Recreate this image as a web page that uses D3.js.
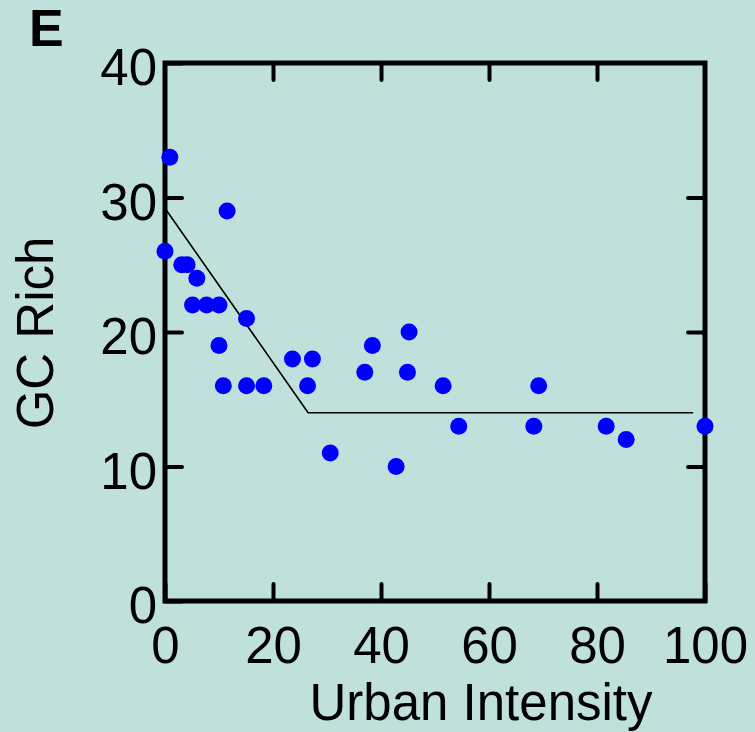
<!DOCTYPE html>
<html>
<head>
<meta charset="utf-8">
<script src="https://cdn.jsdelivr.net/npm/d3@7"></script>
<style>
  body { margin: 0; background: #bfe0db; }
  svg { display: block; font-family: "Liberation Sans", Arial, sans-serif; }
</style>
</head>
<body>
<svg id="chart" width="755" height="732"></svg>
<script>
// points
var urbanIntensity = [0, 0.9, 3.1, 4.1, 5.9, 5.1, 7.7, 10.0, 10.0, 11.5, 15.1, 10.8, 15.1, 18.3,
                      23.6, 27.3, 26.4, 30.6, 37.0, 38.4, 42.8, 45.2, 44.9, 51.5, 54.4, 68.3, 69.2, 81.7, 85.4, 100];
var gcRich = [26, 33, 25, 25, 24, 22, 22, 22, 19, 29, 21, 16, 16, 16,
              18, 18, 16, 11, 17, 19, 10, 20, 17, 16, 13, 13, 16, 13, 12, 13];

// broken-stick fit
var fitX = [0, 26.5, 97.8];
var fitY = [29.2, 14, 14];

var xTicks = [0, 20, 40, 60, 80, 100];
var yTicks = [0, 10, 20, 30, 40];

var margin = {left: 165, top: 63, right: 50, bottom: 131};
var w = 755 - margin.left - margin.right,
    h = 732 - margin.top - margin.bottom;

var svg = d3.select("#chart");
var g = svg.append("g").attr("transform", "translate(" + margin.left + "," + margin.top + ")");

var x = d3.scaleLinear().domain([0, 100]).range([0, w]);
var y = d3.scaleLinear().domain([0, 40]).range([h, 0]);

var tickLen = 17;
var fontSize = "51px";

function styleAxis(sel, showText) {
    sel.select(".domain").remove();
    sel.selectAll(".tick line").attr("stroke", "#000").attr("stroke-width", 4).attr("stroke-linecap", "round");
    sel.selectAll(".tick text").attr("fill", "#000").style("font-size", fontSize);
    if (!showText) sel.selectAll(".tick text").remove();
}

// bottom
g.append("g").attr("transform", "translate(0," + h + ")")
    .call(d3.axisBottom(x).tickValues(xTicks).tickSizeInner(-tickLen).tickSizeOuter(0).tickPadding(26))
    .call(styleAxis, true);
// top
g.append("g")
    .call(d3.axisTop(x).tickValues(xTicks.slice(1, -1)).tickSizeInner(-tickLen).tickSizeOuter(0))
    .call(styleAxis, false);
// left
var yAx = g.append("g")
    .call(d3.axisLeft(y).tickValues(yTicks).tickSizeInner(-tickLen).tickSizeOuter(0).tickPadding(8))
    .call(styleAxis, true);
yAx.selectAll(".tick text").attr("dy", "0.43em");
// right
g.append("g").attr("transform", "translate(" + w + ",0)")
    .call(d3.axisRight(y).tickValues(yTicks.slice(1, -1)).tickSizeInner(-tickLen).tickSizeOuter(0))
    .call(styleAxis, false);

// frame
g.append("rect")
    .attr("x", 0).attr("y", 0).attr("width", w).attr("height", h)
    .attr("fill", "none").attr("stroke", "#000").attr("stroke-width", 5);

// fit line
var line = d3.line().x(function(d){ return x(d[0]); }).y(function(d){ return y(d[1]); });
g.append("path")
    .datum(d3.zip(fitX, fitY))
    .attr("d", line)
    .attr("fill", "none").attr("stroke", "#000").attr("stroke-width", 1.6);

// points
g.selectAll(".dot")
    .data(d3.zip(urbanIntensity, gcRich))
    .enter().append("circle")
    .attr("class", "dot")
    .attr("cx", function(d){ return x(d[0]); })
    .attr("cy", function(d){ return y(d[1]); })
    .attr("r", 8.5)
    .attr("fill", "#0000ff");

// titles
svg.append("text")
    .attr("x", 481).attr("y", 720)
    .attr("text-anchor", "middle")
    .style("font-size", fontSize)
    .text("Urban Intensity");

svg.append("text")
    .attr("transform", "translate(53,333) rotate(-90)")
    .attr("text-anchor", "middle")
    .style("font-size", fontSize)
    .text("GC Rich");

svg.append("text")
    .attr("x", 29).attr("y", 46)
    .style("font-size", "52px").style("font-weight", "bold")
    .text("E");
</script>
</body>
</html>
